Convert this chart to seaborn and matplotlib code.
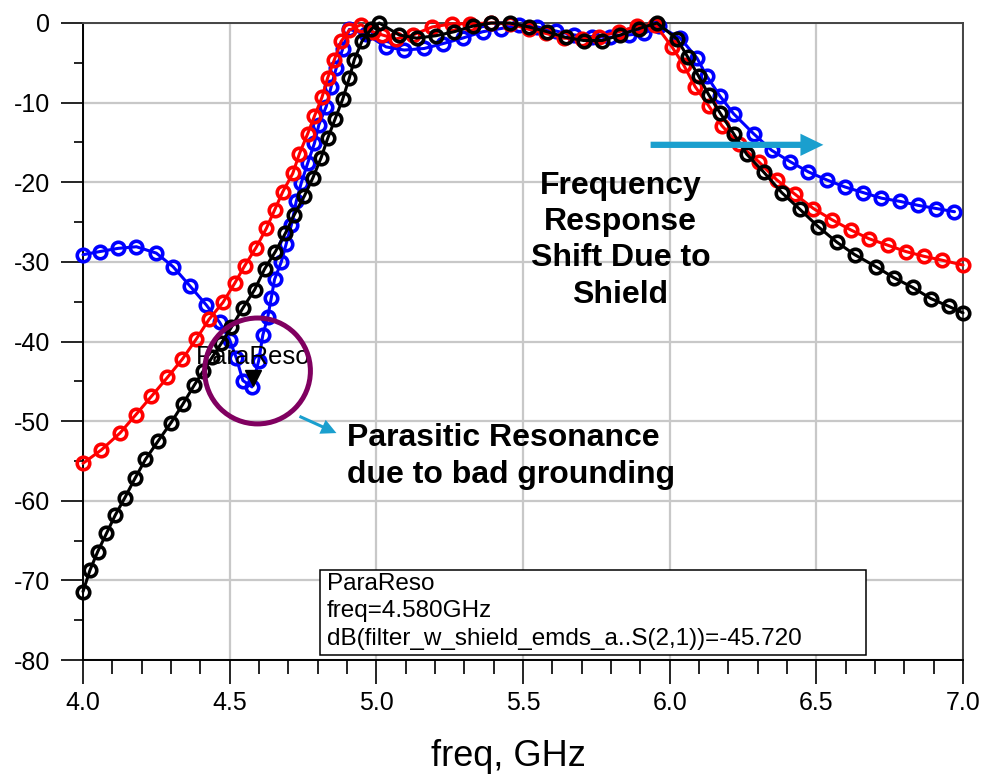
import numpy as np
import pandas as pd
import matplotlib
matplotlib.use('Agg')
import matplotlib.pyplot as plt
import matplotlib.transforms as mtransforms
from matplotlib.patches import Ellipse, Rectangle
from matplotlib.ticker import MultipleLocator
import seaborn as sns

sns.set_style('white')
plt.rcParams['font.family'] = ['Liberation Sans', 'DejaVu Sans']
plt.rcParams['axes.unicode_minus'] = False
plt.rcParams['text.color'] = 'black'
plt.rcParams['xtick.color'] = 'black'
plt.rcParams['ytick.color'] = 'black'
plt.rcParams['axes.labelcolor'] = 'black'

# S21 traces (GHz, dB)
blue_freq = [4.000, 4.058, 4.120, 4.182, 4.250, 4.307, 4.364, 4.420, 4.466, 4.500,
             4.523, 4.545, 4.576, 4.599, 4.613, 4.630, 4.642, 4.653, 4.676, 4.693,
             4.710, 4.727, 4.744, 4.766, 4.789, 4.804, 4.829, 4.846, 4.863, 4.885,
             4.908, 4.965, 5.033, 5.095, 5.163, 5.226, 5.294, 5.362, 5.424, 5.486,
             5.549, 5.611, 5.673, 5.736, 5.798, 5.861, 5.912, 5.963, 6.036, 6.093,
             6.127, 6.172, 6.218, 6.286, 6.348, 6.410, 6.473, 6.535, 6.598, 6.660,
             6.722, 6.785, 6.847, 6.909, 6.971]
blue_db = [-29.1, -28.7, -28.3, -28.1, -28.9, -30.6, -33.0, -35.4, -37.6, -39.8,
           -42.1, -44.9, -45.7, -42.4, -39.2, -36.9, -34.5, -32.2, -30.0, -27.7,
           -25.4, -22.4, -20.1, -17.6, -15.1, -12.8, -10.5, -8.0, -5.7, -3.3,
           -0.8, -1.4, -3.0, -3.4, -3.2, -2.6, -1.9, -1.1, -0.7, -0.25,
           -0.5, -1.0, -1.5, -1.7, -1.8, -1.5, -1.3, -0.4, -1.9, -4.4,
           -6.7, -9.2, -11.4, -13.9, -16.0, -17.4, -18.7, -19.7, -20.6, -21.3,
           -22.0, -22.4, -22.9, -23.3, -23.7]

red_freq = [4.000, 4.063, 4.126, 4.180, 4.233, 4.288, 4.339, 4.386, 4.430, 4.477,
            4.517, 4.551, 4.590, 4.625, 4.653, 4.681, 4.715, 4.738, 4.766, 4.789,
            4.815, 4.834, 4.857, 4.880, 4.908, 4.948, 4.987, 5.020, 5.067, 5.125,
            5.190, 5.258, 5.320, 5.390, 5.456, 5.520, 5.577, 5.639, 5.700, 5.759,
            5.827, 5.889, 5.951, 6.008, 6.048, 6.087, 6.133, 6.178, 6.235, 6.303,
            6.365, 6.427, 6.490, 6.553, 6.618, 6.680, 6.743, 6.805, 6.867, 6.930,
            7.000]
red_db = [-55.3, -53.6, -51.5, -49.2, -46.9, -44.5, -42.2, -39.7, -37.2, -35.1,
          -32.7, -30.5, -28.2, -25.8, -23.5, -21.2, -18.9, -16.4, -13.9, -11.7,
          -9.3, -6.9, -4.6, -2.3, -0.9, -0.2, -1.1, -1.5, -2.0, -1.5,
          -0.5, -0.1, -0.1, 0.0, -0.1, -0.8, -1.3, -1.9, -2.0, -1.7,
          -1.1, -0.4, -0.2, -3.0, -5.3, -8.0, -10.4, -12.9, -15.2, -17.4,
          -19.7, -21.5, -23.3, -24.7, -26.0, -27.1, -27.9, -28.7, -29.3, -29.8,
          -30.4]

black_freq = [4.000, 4.024, 4.050, 4.080, 4.110, 4.143, 4.177, 4.213, 4.256, 4.300,
              4.340, 4.379, 4.410, 4.440, 4.472, 4.506, 4.545, 4.585, 4.619, 4.656,
              4.690, 4.720, 4.755, 4.783, 4.812, 4.834, 4.860, 4.885, 4.908, 4.925,
              4.951, 4.982, 5.010, 5.078, 5.137, 5.203, 5.265, 5.328, 5.392, 5.456,
              5.520, 5.583, 5.645, 5.707, 5.770, 5.832, 5.895, 5.957, 6.025, 6.062,
              6.099, 6.133, 6.172, 6.218, 6.263, 6.320, 6.382, 6.444, 6.507, 6.569,
              6.631, 6.703, 6.765, 6.828, 6.890, 6.952, 7.000]
black_db = [-71.4, -68.7, -66.4, -64.1, -61.8, -59.6, -57.2, -54.8, -52.5, -50.2,
            -47.9, -45.5, -43.7, -42.0, -40.2, -38.2, -35.8, -33.5, -30.9, -28.7,
            -26.4, -24.1, -21.7, -19.5, -16.9, -14.5, -12.0, -9.6, -6.9, -4.6,
            -2.3, -0.8, 0.0, -1.5, -1.9, -1.6, -1.1, -0.4, 0.0, 0.0,
            -0.5, -1.1, -1.8, -2.2, -2.2, -1.5, -0.7, 0.0, -2.0, -4.3,
            -6.7, -9.0, -11.3, -13.9, -16.5, -18.7, -21.3, -23.4, -25.6, -27.5,
            -29.1, -30.6, -32.0, -33.2, -34.6, -35.6, -36.4]

x_ticks = [4.0, 4.5, 5.0, 5.5, 6.0, 6.5, 7.0]
x_tick_labels = ['4.0', '4.5', '5.0', '5.5', '6.0', '6.5', '7.0']
y_ticks = [0, -10, -20, -30, -40, -50, -60, -70, -80]

marker_name = 'ParaReso'
marker_freq = 4.580
marker_db = -45.720

fig = plt.figure(figsize=(9.84, 7.81), dpi=100)
ax = fig.add_axes([83/984, 1-660/781, 880/984, 637/781])

for fr, db, col in [(blue_freq, blue_db, '#0000ff'),
                    (red_freq, red_db, '#ff0000'),
                    (black_freq, black_db, '#000000')]:
    sns.lineplot(x=fr, y=db, ax=ax, color=col, estimator=None, sort=False,
                 lw=2.2, marker='o', markersize=9, mfc='none', mec=col, mew=2.6,
                 clip_on=False, zorder=3)

ax.set_xlim(4, 7)
ax.set_ylim(-80, 0)
ax.set_xticks(x_ticks)
ax.set_xticklabels(x_tick_labels)
ax.set_yticks(y_ticks)
ax.xaxis.set_minor_locator(MultipleLocator(0.1))
ax.yaxis.set_minor_locator(MultipleLocator(5))
ax.tick_params(axis='x', which='major', length=17, width=1.2, direction='out',
               labelsize=18, pad=5, bottom=True)
ax.tick_params(axis='x', which='minor', length=10, width=1.2, direction='out', bottom=True)
ax.tick_params(axis='y', which='major', length=16, width=1.2, direction='out',
               labelsize=18, pad=7.5, left=True)
ax.tick_params(axis='y', which='minor', length=6.5, width=1.2, direction='out', left=True)
ax.grid(True, which='major', color='#c8c8c8', lw=1.6)
ax.set_axisbelow(True)
for s in ['left', 'bottom']:
    ax.spines[s].set_color('black')
    ax.spines[s].set_linewidth(1.4)
for s in ['top', 'right']:
    ax.spines[s].set_color('#444444')
    ax.spines[s].set_linewidth(1.4)
ax.set_xlabel('freq, GHz', fontsize=26)
ax.xaxis.set_label_coords((508-83)/880, -(757-660)/637)
ax.xaxis.label.set_va('center')
ax.set_ylabel('')

# marker on the blue trace
tri = mtransforms.offset_copy(ax.transData, fig=fig, x=0, y=6.5, units='points')
ax.plot([marker_freq], [marker_db], marker='v', color='black', markersize=11,
        transform=tri, zorder=5, clip_on=False)
ax.text(4.384, -41.9, marker_name, fontsize=18.5, va='center', ha='left', zorder=6)

ax.add_patch(Ellipse((4.595, -43.7), 0.3605, 13.3, fill=False,
                     edgecolor='#800060', lw=3.6, zorder=6))

ax.annotate('', xy=(4.864, -51.5), xytext=(4.738, -49.4),
            arrowprops=dict(arrowstyle='simple,head_length=1.1,head_width=1.1,tail_width=0.22',
                            mutation_scale=10, color='#1a9fce', lw=0,
                            shrinkA=0, shrinkB=0))
ax.text(4.901, -54.4, 'Parasitic Resonance\ndue to bad grounding', fontsize=23,
        fontweight='bold', ha='left', va='center', linespacing=1.3)

ax.annotate('', xy=(6.524, -15.3), xytext=(5.935, -15.3),
            arrowprops=dict(arrowstyle='simple,head_length=1.65,head_width=1.6,tail_width=0.45',
                            mutation_scale=10, color='#1a9fce', lw=0,
                            shrinkA=0, shrinkB=0))
ax.text(5.832, -27.3, 'Frequency\nResponse\nShift Due to\nShield', fontsize=23,
        fontweight='bold', ha='center', va='center', multialignment='center',
        linespacing=1.27)

# marker readout box
ax.add_patch(Rectangle(((320-83)/880, (660-655)/637), (866-320)/880, (655-570)/637,
                       transform=ax.transAxes, facecolor='white', edgecolor='black',
                       lw=1.1, zorder=6))
ax.text((327-83)/880, (660-611.5)/637,
        '%s\nfreq=%.3fGHz\ndB(filter_w_shield_emds_a..S(2,1))=%.3f' % (marker_name, marker_freq, marker_db),
        transform=ax.transAxes, fontsize=17.5, ha='left', va='center',
        linespacing=1.3, zorder=7)

plt.savefig('out.png', dpi=100)
